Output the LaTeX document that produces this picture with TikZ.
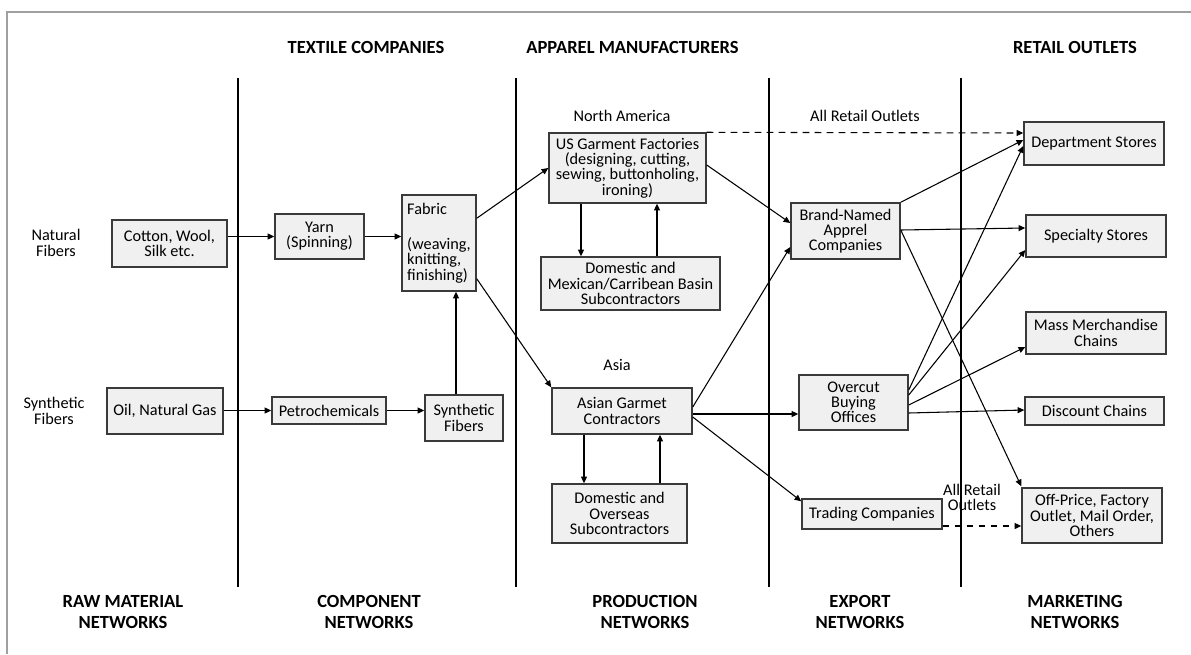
\documentclass[tikz,border=0pt]{standalone}
\usepackage{fontspec}
\setmainfont{Carlito}
\usetikzlibrary{arrows.meta,calc}
\definecolor{boxfill}{HTML}{F0F0F0}
\definecolor{boxline}{HTML}{3A3A3A}
\definecolor{framecol}{HTML}{A0A0A0}
\begin{document}
\begin{tikzpicture}[x=0.75pt,y=-0.75pt,
  every node/.style={font=\fontsize{12.2}{11.4}\selectfont, inner sep=0pt},
  box/.style={draw=boxline, line width=1.1pt, fill=boxfill, align=center},
  bx/.style 2 args={minimum width=#1*0.75pt, minimum height=#2*0.75pt},
  lbl/.style={align=center},
  hdr/.style={font=\bfseries\fontsize{13.9}{16.3}\selectfont, align=center},
  sep/.style={line width=0.9pt},
  arr/.style={line width=0.8pt, -{Triangle[length=5pt,width=4.5pt]}},
  darr/.style={arr, dashed, dash pattern=on 5pt off 4pt}]
\useasboundingbox (0,0) rectangle (1191,654);
% frame
\draw[framecol, line width=1.2pt] (7,654) -- (7,12) -- (1191,12);
% separators
\coordinate (s1t) at (238,78); \coordinate (s1b) at (238,587);
\coordinate (s2t) at (516,78); \coordinate (s2b) at (516,587);
\coordinate (s3t) at (769,78); \coordinate (s3b) at (769,587);
\coordinate (s4t) at (961,78); \coordinate (s4b) at (961,587);
\draw[sep] (s1t) -- (s1b);
\draw[sep] (s2t) -- (s2b);
\draw[sep] (s3t) -- (s3b);
\draw[sep] (s4t) -- (s4b);
% headers
\node[hdr] (h1) at (366,47) {TEXTILE COMPANIES};
\node[hdr] (h2) at (632.5,47) {APPAREL MANUFACTURERS};
\node[hdr] (h3) at (1075,47) {RETAIL OUTLETS};
\node[hdr] (f1) at (123,612) {RAW MATERIAL\\NETWORKS};
\node[hdr] (f2) at (369,612) {COMPONENT\\NETWORKS};
\node[hdr] (f3) at (645,612) {PRODUCTION\\NETWORKS};
\node[hdr] (f4) at (860,612) {EXPORT\\NETWORKS};
\node[hdr] (f5) at (1075,612) {MARKETING\\NETWORKS};
% labels
\node[lbl] (natf) at (56,243) {Natural\\Fibers};
\node[lbl] (synl) at (54,411) {Synthetic\\Fibers};
\node[lbl] (na) at (622,116) {North America};
\node[lbl] (asia) at (617,365) {Asia};
\node[lbl] (aro1) at (865,116) {All Retail Outlets};
\node[lbl] (aro2) at (972,497) {All Retail\\Outlets};
% boxes
\node[box, bx={115}{47}] (cotton) at (169.5,243.5) {Cotton, Wool,\\Silk etc.};
\node[box, bx={89}{45}] (yarn) at (319.5,236.5) {Yarn\\(Spinning)};
\node[box, bx={74}{96}, align=left] (fabric) at (439,243) {Fabric\\[15pt](weaving,\\knitting,\\finishing)};
\node[box, bx={116}{46}] (oil) at (165,411) {Oil, Natural Gas};
\node[box, bx={114}{27}] (petro) at (329,410.5) {Petrochemicals};
\node[box, bx={78}{46}] (synf) at (464,418) {Synthetic\\Fibers};
\node[box, bx={157}{70}] (usg) at (627.5,168) {US Garment Factories\\(designing, cutting,\\sewing, buttonholing,\\ironing)};
\node[box, bx={179}{53}] (dmex) at (630.5,283.5) {Domestic and\\Mexican/Carribean Basin\\Subcontractors};
\node[box, bx={140}{46}] (asian) at (622,411) {Asian Garmet\\Contractors};
\node[box, bx={135}{59}] (dover) at (619.5,513.5) {Domestic and\\Overseas\\Subcontractors};
\node[box, bx={109}{56}] (brand) at (845.5,231) {Brand-Named\\Apprel\\Companies};
\node[box, bx={109}{55}] (overcut) at (853.5,402.5) {Overcut\\Buying\\Offices};
\node[box, bx={140}{30}] (trading) at (872,514) {Trading Companies};
\node[box, bx={140}{43}] (dept) at (1094,143.5) {Department Stores};
\node[box, bx={140}{42}] (spec) at (1096,236) {Specialty Stores};
\node[box, bx={140}{42}] (mass) at (1096,333) {Mass Merchandise\\Chains};
\node[box, bx={139}{28}] (disc) at (1094.5,411) {Discount Chains};
\node[box, bx={140}{55}] (offp) at (1092,515.5) {Off-Price, Factory\\Outlet, Mail Order,\\Others};
% connectors
\draw[arr] (cotton.east |- yarn.west) -- (yarn.west);
\draw[arr] (yarn.east) -- (yarn.east -| fabric.west);
\draw[arr] (oil.east |- petro.west) -- (petro.west);
\draw[arr] (petro.east) -- (petro.east -| synf.west);
\draw[arr] ($(synf.north)+(-8,0)$) -- ($(fabric.south)+(17,0)$);
\draw[arr] ($(fabric.north east)+(0,24)$) -- (usg.west);
\draw[arr] ($(fabric.south east)+(0,-13)$) -- (asian.north west);
\draw[arr] ($(usg.south)+(-46.5,0)$) -- ($(dmex.north)+(-49.5,0)$);
\draw[arr] ($(dmex.north)+(26.5,0)$) -- ($(usg.south)+(29.5,0)$);
\draw[arr] ($(asian.south)+(-38,0)$) -- ($(dover.north)+(-35.5,0)$);
\draw[arr] ($(dover.north)+(40.5,0)$) -- ($(asian.south)+(38,0)$);
\draw[arr] ($(usg.east)+(0,-3)$) -- ($(brand.west)+(0,-8)$);
\draw[arr] ($(asian.east)+(0,-4)$) -- ($(brand.west)+(0,16)$);
\draw[darr] (usg.north east) -- ($(dept.west)+(0,-10.5)$);
\draw[arr] (brand.north east) -- ($(dept.west)+(0,-3.5)$);
\draw[arr] ($(brand.east)+(0,-1)$) -- ($(spec.west)+(0,-8)$);
\draw[arr] ($(brand.east)+(0,-1)$) -- ($(offp.north west)+(0,-1)$);
\draw[arr] ($(asian.east)+(0,3)$) -- ($(overcut.west)+(0,11.5)$);
\draw[arr] ($(asian.east)+(0,6)$) -- ($(trading.north west)+(0,3)$);
\draw[arr] ($(overcut.east)+(0,-12.5)$) -- ($(dept.west)+(0,2.5)$);
\draw[arr] ($(overcut.east)+(0,-7.5)$) -- ($(spec.west)+(0,14)$);
\draw[arr] ($(overcut.east)+(0,2.5)$) -- ($(mass.west)+(0,14)$);
\draw[arr] ($(overcut.east)+(0,10.5)$) -- ($(disc.west)+(0,-1)$);
\draw[darr] ($(trading.east)+(0,12)$) -- ($(offp.west)+(0,10.5)$);
\end{tikzpicture}
\end{document}
